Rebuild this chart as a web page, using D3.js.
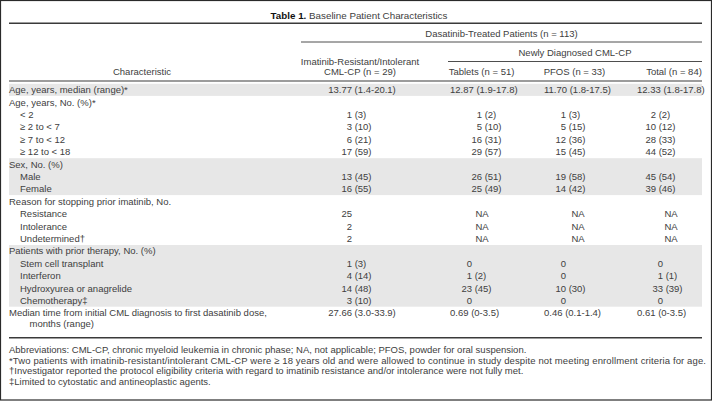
<!DOCTYPE html>
<html><head><meta charset="utf-8">
<script src="https://cdn.jsdelivr.net/npm/d3@7"></script>
<style>
html,body{margin:0;padding:0;background:#fff;}
svg{display:block;}
text{font-family:"Liberation Sans",Arial,Helvetica,sans-serif;fill:#404040;}
</style></head>
<body>
<svg id="chart" width="712" height="401"></svg>
<script>
// ---------- DATA ----------
const titleBold = "Table 1.";
const titleText = "Baseline Patient Characteristics";
const spanHeader = "Dasatinib-Treated Patients (n = 113)";
const subSpanHeader = "Newly Diagnosed CML-CP";
const stubHeader = "Characteristic";
const columnHeaders = [
  ["Imatinib-Resistant/Intolerant", "CML-CP (n = 29)"],
  ["Tablets (n = 51)"],
  ["PFOS (n = 33)"],
  ["Total (n = 84)"]
];
const rowLabels = [
  "Age, years, median (range)*",
  "Age, years, No. (%)*",
  "< 2",
  "\u2265 2 to < 7",
  "\u2265 7 to < 12",
  "\u2265 12 to < 18",
  "Sex, No. (%)",
  "Male",
  "Female",
  "Reason for stopping prior imatinib, No.",
  "Resistance",
  "Intolerance",
  "Undetermined\u2020",
  "Patients with prior therapy, No. (%)",
  "Stem cell transplant",
  "Interferon",
  "Hydroxyurea or anagrelide",
  "Chemotherapy\u2021",
  "Median time from initial CML diagnosis to first dasatinib dose,"
];
const rowLabelCont = {18: "months (range)"};
const rowIndent = [0,0,1,1,1,1,0,1,1,0,1,1,1,0,1,1,1,1,0];
const groupStarts = [0, 1, 6, 9, 13, 18];
const imatinibValues = ["13.77 (1.4-20.1)", "", "1 (3)", "3 (10)", "6 (21)", "17 (59)", "", "13 (45)", "16 (55)", "", "25", "2", "2", "", "1 (3)", "4 (14)", "14 (48)", "3 (10)", "27.66 (3.0-33.9)"];
const tabletsValues = ["12.87 (1.9-17.8)", "", "1 (2)", "5 (10)", "16 (31)", "29 (57)", "", "26 (51)", "25 (49)", "", "NA", "NA", "NA", "", "0", "1 (2)", "23 (45)", "0", "0.69 (0-3.5)"];
const pfosValues = ["11.70 (1.8-17.5)", "", "1 (3)", "5 (15)", "12 (36)", "15 (45)", "", "19 (58)", "14 (42)", "", "NA", "NA", "NA", "", "0", "0", "10 (30)", "0", "0.46 (0.1-1.4)"];
const totalValues = ["12.33 (1.8-17.8)", "", "2 (2)", "10 (12)", "28 (33)", "44 (52)", "", "45 (54)", "39 (46)", "", "NA", "NA", "NA", "", "0", "1 (1)", "33 (39)", "0", "0.61 (0-3.5)"];
const footnotes = [
  "Abbreviations: CML-CP, chronic myeloid leukemia in chronic phase; NA, not applicable; PFOS, powder for oral suspension.",
  "*Two patients with imatinib-resistant/intolerant CML-CP were \u2265 18 years old and were allowed to continue in study despite not meeting enrollment criteria for age.",
  "\u2020Investigator reported the protocol eligibility criteria with regard to imatinib resistance and/or intolerance were not fully met.",
  "\u2021Limited to cytostatic and antineoplastic agents."
];

// ---------- LAYOUT ----------
const W = 712, H = 401;
const FS = 9.5;
const left = 9, right = 702;
const svg = d3.select("#chart");

// outer frame
svg.append("rect").attr("x",0.5).attr("y",0.5).attr("width",W-1).attr("height",H-1.5)
  .attr("fill","#fff").attr("stroke","#2a2a2a").attr("stroke-width",1.2);

const nRows = rowLabels.length;
const y = d3.scaleLinear().domain([0, 1]).range([89.7, 102.1]);
const rowH = y(1) - y(0);

// group shading
const groups = groupStarts.map((s, i) => ({start: s, end: (i < groupStarts.length - 1 ? groupStarts[i+1] : nRows) - 1, i}));
svg.append("g").selectAll("rect").data(groups.filter(g => g.i % 2 === 0 && g.start < 18)).join("rect")
  .attr("x", left).attr("width", right - left)
  .attr("y", g => y(g.start) - rowH/2 + 0.3)
  .attr("height", g => y(g.end) - y(g.start) + rowH - 0.3)
  .attr("fill", "#e7e7e7");

// title
const title = svg.append("text").attr("x", 359).attr("y", 18.5).attr("text-anchor","middle")
  .style("font-size", "9.8px");
title.append("tspan").attr("font-weight","bold").style("fill","#111").text(titleBold);
title.append("tspan").text(" " + titleText);

// rules
function rule(x1, x2, yy, w) {
  svg.append("line").attr("x1",x1).attr("x2",x2).attr("y1",yy).attr("y2",yy)
    .attr("stroke","#3a3a3a").attr("stroke-width",w);
}
rule(left, right, 23.3, 1.4);
rule(301, right, 42, 0.9);
rule(448, right, 61.5, 0.9);
rule(left, right, 81, 1.1);
rule(left, right, 337.8, 1.4);

// headers
function txt(x, yy, s, anchor, fs) {
  return svg.append("text").attr("x", x).attr("y", yy).attr("text-anchor", anchor || "start")
    .style("font-size", (fs || FS) + "px").text(s);
}
txt((301 + right)/2, 36.5, spanHeader, "middle");
txt((448 + right)/2, 55.5, subSpanHeader, "middle");
txt(142, 75, stubHeader, "middle");

const x = d3.scaleOrdinal().domain([0,1,2,3]).range([360, 481.5, 574.5, 674]);
columnHeaders.forEach((lines, c) => {
  lines.forEach((s, k) => {
    const yy = 75 - (lines.length - 1 - k) * 10.5;
    txt(x(c), yy, s, "middle");
  });
});

// row labels
const baseOff = 3.4;
svg.append("g").selectAll("text").data(rowLabels).join("text")
  .attr("x", (d, i) => left + rowIndent[i] * 11)
  .attr("y", (d, i) => y(i) + baseOff)
  .style("font-size", FS + "px")
  .text(d => d);
Object.keys(rowLabelCont).forEach(k => {
  txt(left + 20.5, y(+k) + baseOff + 11, rowLabelCont[k]);
});

// cell alignment per column and section
const columns = [imatinibValues, tabletsValues, pfosValues, totalValues];
const numEndAge = [352, 482, 566, 656];
const numEndPrior = [352, 472, 566, 663];
const naCenter = [352, 482, 578, 671];
const medianPos = [[362, "middle"], [450, "start"], [544, "start"], [637, "start"]];
const medianRows = [0, 18];
const spaceW = 0.278 * FS;

const cells = [];
columns.forEach((vals, c) => vals.forEach((v, r) => { if (v) cells.push({c, r, v}); }));
cells.forEach(d => {
  const yy = y(d.r) + baseOff;
  if (medianRows.includes(d.r)) {
    txt(medianPos[d.c][0], yy, d.v, medianPos[d.c][1]);
  } else if (d.v === "NA") {
    txt(naCenter[d.c], yy, d.v, "middle");
  } else {
    const end = d.r >= 13 ? numEndPrior[d.c] : numEndAge[d.c];
    const m = d.v.match(/^(\S+)(\s+(.*))?$/);
    txt(end, yy, m[1], "end");
    if (m[3]) txt(end + spaceW, yy, m[3], "start");
  }
});

// footnotes
const fn = svg.append("g").selectAll("text").data(footnotes).join("text")
  .attr("x", left).attr("y", (d, i) => 353 + i * 10.6)
  .style("font-size", FS + "px")
  .text(d => d);
fn.filter((d, i) => i === 1).attr("textLength", 697).attr("lengthAdjust", "spacing");
</script>
</body></html>
